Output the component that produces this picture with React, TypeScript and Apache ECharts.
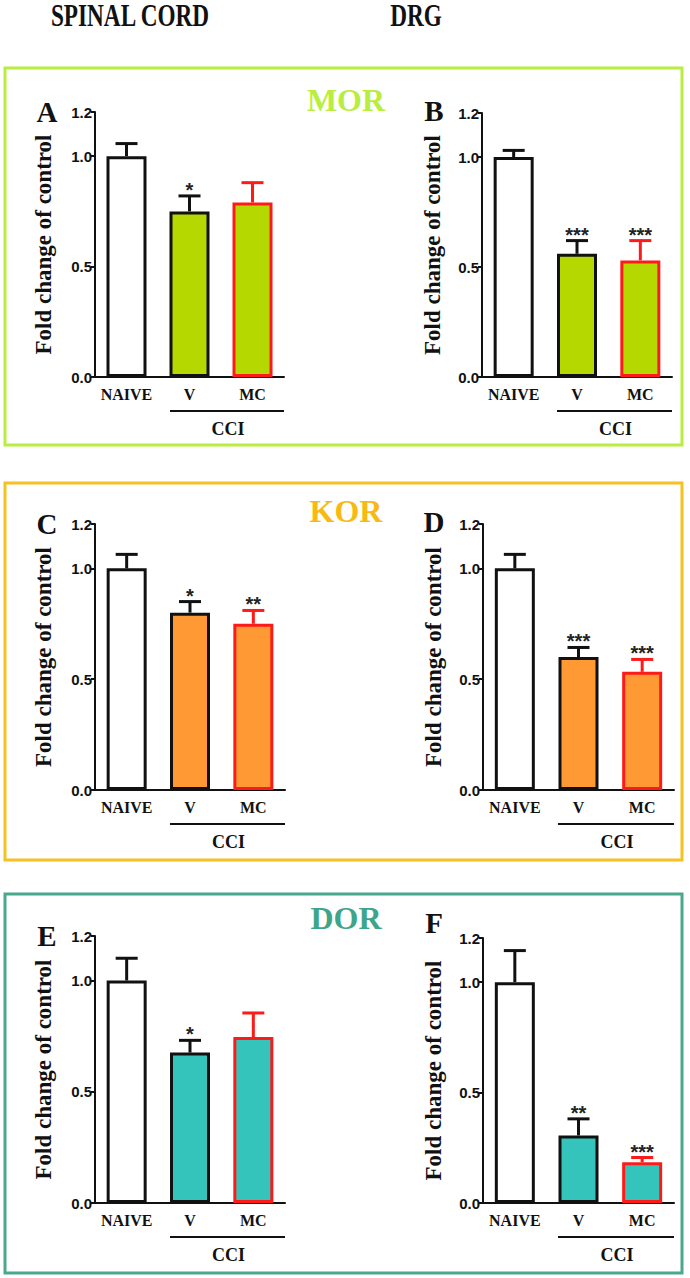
import React, { useEffect, useRef } from "react";
import * as echarts from "echarts";

const categories = ["NAIVE", "V", "MC"];
const yTicks = [0, 0.5, 1.0, 1.2];

const panelLetters = ["A", "B", "C", "D", "E", "F"];
const receptorNames = ["MOR", "KOR", "DOR"];
const columnHeaders = ["SPINAL CORD", "DRG"];

const meanA = [1.0, 0.75, 0.79];
const semA = [0.057, 0.07, 0.09];
const sigA = ["", "*", ""];

const meanB = [1.0, 0.56, 0.53];
const semB = [0.03, 0.06, 0.09];
const sigB = ["", "***", "***"];

const meanC = [1.0, 0.8, 0.75];
const semC = [0.063, 0.05, 0.06];
const sigC = ["", "*", "**"];

const meanD = [1.0, 0.6, 0.533];
const semD = [0.063, 0.043, 0.056];
const sigD = ["", "***", "***"];

const meanE = [1.0, 0.676, 0.746];
const semE = [0.1, 0.055, 0.108];
const sigE = ["", "*", ""];

const meanF = [1.0, 0.306, 0.184];
const semF = [0.143, 0.075, 0.022];
const sigF = ["", "**", "***"];

const SERIF = "'Liberation Serif', 'Times New Roman', serif";
const SANS = "'Liberation Sans', Arial, sans-serif";

const frameColors = ["#b9ee3e", "#f7c023", "#4aa88d"];
const titleColors = ["#b9ee3e", "#f8b914", "#3fa58a"];
const fillColors = ["#b5d900", "#ff9933", "#35c4bb"];
const RED = "#ff1a1a";
const BLACK = "#111111";

// layout: [left, top, width, height] for each grid
const grids = [
  [95, 112, 189, 265],
  [482, 113, 190, 264],
  [95, 524, 190, 266],
  [483, 524, 191, 266],
  [95, 936, 190, 267],
  [483, 938, 191, 265],
];
const frames = [
  [5, 68, 677, 377],
  [5, 483, 677, 377],
  [5, 894, 677, 379],
];

const panels = [
  { mean: meanA, sem: semA, sig: sigA },
  { mean: meanB, sem: semB, sig: sigB },
  { mean: meanC, sem: semC, sig: sigC },
  { mean: meanD, sem: semD, sig: sigD },
  { mean: meanE, sem: semE, sig: sigE },
  { mean: meanF, sem: semF, sig: sigF },
];

export default function App() {
  const ref = useRef<HTMLDivElement>(null);
  useEffect(() => {
    if (!ref.current) return;
    const chart = echarts.init(ref.current, null, { renderer: "svg" });

    const gridOpts: any[] = [];
    const xAxes: any[] = [];
    const yAxes: any[] = [];
    const series: any[] = [];
    const graphic: any[] = [];

    panels.forEach((p, i) => {
      const [l, t, w, h] = grids[i];
      const row = Math.floor(i / 2);
      gridOpts.push({ left: l, top: t, width: w, height: h });
      xAxes.push({
        type: "category",
        gridIndex: i,
        data: categories,
        axisLine: { lineStyle: { color: BLACK, width: 2 } },
        axisTick: { alignWithLabel: true, length: 4, lineStyle: { color: BLACK, width: 2 } },
        axisLabel: {
          interval: 0,
          hideOverlap: false,
          margin: 9,
          color: BLACK,
          fontFamily: SERIF,
          fontWeight: "bold",
          fontSize: 16,
        },
      });
      yAxes.push({
        type: "value",
        gridIndex: i,
        min: 0,
        max: 1.2,
        interval: 0.5,
        splitLine: { show: false },
        axisLine: { show: true, lineStyle: { color: BLACK, width: 2 } },
        axisTick: { show: true, length: 4, lineStyle: { color: BLACK, width: 2 } },
        axisLabel: {
          margin: 3,
          color: BLACK,
          fontFamily: SANS,
          fontWeight: "bold",
          fontSize: 15,
          formatter: (v: number) => v.toFixed(1),
          customValues: yTicks,
        },
        name: "Fold change of control",
        nameLocation: "middle",
        nameGap: i % 2 === 0 ? 40 : 38,
        nameTextStyle: {
          color: BLACK,
          fontFamily: SERIF,
          fontWeight: "bold",
          fontSize: 23,
        },
      });
      series.push({
        type: "bar",
        xAxisIndex: i,
        yAxisIndex: i,
        barWidth: 40,
        data: p.mean.map((v, j) => ({
          value: v,
          itemStyle: {
            color: j === 0 ? "#ffffff" : fillColors[row],
            borderColor: j === 2 ? RED : BLACK,
            borderWidth: 3,
          },
        })),
      });
      series.push({
        type: "custom",
        xAxisIndex: i,
        yAxisIndex: i,
        z: 5,
        data: p.mean.map((v, j) => [j, v, p.sem[j]]),
        renderItem: (params: any, api: any) => {
          const j = params.dataIndex;
          const x = api.value(0);
          const m = api.value(1);
          const e = api.value(2);
          const base = api.coord([x, m]);
          const top = api.coord([x, m + e]);
          const col = j === 2 ? RED : BLACK;
          const children: any[] = [
            {
              type: "line",
              shape: { x1: base[0], y1: base[1], x2: top[0], y2: top[1] },
              style: { stroke: col, lineWidth: 3 },
            },
            {
              type: "line",
              shape: { x1: top[0] - 11, y1: top[1], x2: top[0] + 11, y2: top[1] },
              style: { stroke: col, lineWidth: 3 },
            },
          ];
          const s = p.sig[j];
          if (s) {
            children.push({
              type: "text",
              x: top[0],
              y: top[1] + 4,
              style: {
                text: s,
                textAlign: "center",
                textVerticalAlign: "bottom",
                font: `bold 20px ${SANS}`,
                fill: "#222222",
              },
            });
          }
          return { type: "group", children };
        },
      });

      // CCI bracket
      const bottom = t + h;
      graphic.push({
        type: "line",
        shape: { x1: l + 75, y1: bottom + 34, x2: l + w, y2: bottom + 34 },
        style: { stroke: BLACK, lineWidth: 2 },
      });
      graphic.push({
        type: "text",
        x: l + 75 + (w - 75) / 2 + 1,
        y: bottom + 52,
        style: {
          text: "CCI",
          textAlign: "center",
          textVerticalAlign: "middle",
          font: `bold 18px ${SERIF}`,
          fill: BLACK,
        },
      });
      // panel letter
      graphic.push({
        type: "text",
        x: i % 2 === 0 ? 47 : 434,
        y: t + (i >= 4 && i % 2 === 1 ? -15 : i % 2 === 1 ? -2 : 0),
        style: {
          text: panelLetters[i],
          textAlign: "center",
          textVerticalAlign: "middle",
          font: `bold 29px ${SERIF}`,
          fill: BLACK,
        },
      });
    });

    frames.forEach((f, r) => {
      graphic.push({
        type: "rect",
        shape: { x: f[0], y: f[1], width: f[2], height: f[3] },
        style: { fill: "none", stroke: frameColors[r], lineWidth: 3 },
      });
    });
    const titleY = [100, 511, 918];
    receptorNames.forEach((n, r) => {
      graphic.push({
        type: "text",
        x: 346,
        y: titleY[r],
        style: {
          text: n,
          textAlign: "center",
          textVerticalAlign: "middle",
          font: `bold 32px ${SERIF}`,
          fill: titleColors[r],
        },
      });
    });
    const headerX = [130, 416];
    columnHeaders.forEach((hd, k) => {
      graphic.push({
        type: "text",
        x: headerX[k],
        y: 16,
        scaleX: 0.75,
        style: {
          text: hd,
          textAlign: "center",
          textVerticalAlign: "middle",
          font: `bold 31px ${SERIF}`,
          fill: BLACK,
        },
      });
    });

    chart.setOption({
      animation: false,
      backgroundColor: "#ffffff",
      grid: gridOpts,
      xAxis: xAxes,
      yAxis: yAxes,
      series,
      graphic,
    });
    return () => chart.dispose();
  }, []);
  return (
    <div
      ref={ref}
      style={{ position: "absolute", left: 0, top: 0, width: 690, height: 1278 }}
    />
  );
}
